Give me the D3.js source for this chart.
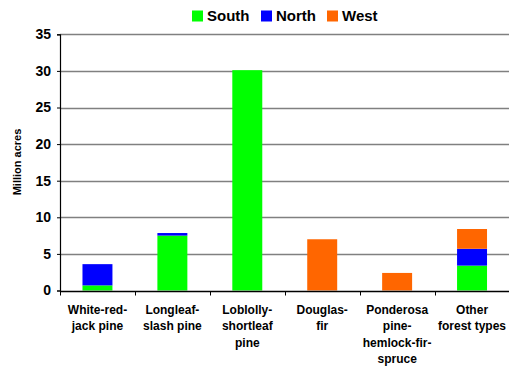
<!DOCTYPE html>
<html>
<head>
<meta charset="utf-8">
<script src="https://cdn.jsdelivr.net/npm/d3@7"></script>
<style>
  body { margin: 0; background: #fff; }
  text { font-family: "Liberation Sans", Arial, sans-serif; font-weight: bold; }
</style>
</head>
<body>
<div id="chart"></div>
<script>
const categories = [
  ["White-red-", "jack pine"],
  ["Longleaf-", "slash pine"],
  ["Loblolly-", "shortleaf", "pine"],
  ["Douglas-", "fir"],
  ["Ponderosa", "pine-", "hemlock-fir-", "spruce"],
  ["Other", "forest types"]
];
const series = ["South", "North", "West"];
const south = [0.7, 7.5, 30.1, 0, 0, 3.4];
const north = [2.9, 0.35, 0, 0, 0, 2.3];
const west = [0, 0, 0, 7.0, 2.4, 2.7];
const yTicks = [0, 5, 10, 15, 20, 25, 30, 35];
const colors = ["#00ff00", "#0000ff", "#ff6600"];

const W = 509, H = 368;
const margin = {top: 34, right: 0, bottom: 78, left: 60};

const svg = d3.select("#chart").append("svg")
  .attr("width", W).attr("height", H);

const rows = categories.map((c, i) => ({i, South: south[i], North: north[i], West: west[i]}));
const stacked = d3.stack().keys(series)(rows);

const x = d3.scaleBand().domain(d3.range(categories.length))
  .range([margin.left, W - margin.right + 0.5]).paddingInner(0.6).paddingOuter(0.3);
const xb = d3.scaleBand().domain(d3.range(categories.length))
  .range([margin.left, W - margin.right + 0.5]);
const y = d3.scaleLinear().domain([0, 35]).range([H - margin.bottom + 0.5, margin.top + 0.3]);

// gridlines
svg.append("g").selectAll("line").data(yTicks.slice(1)).join("line")
  .attr("x1", margin.left).attr("x2", W)
  .attr("y1", d => Math.round(y(d)) + 0.5).attr("y2", d => Math.round(y(d)) + 0.5)
  .attr("stroke", "#808080").attr("stroke-width", 1.5);

// bars
svg.append("g").selectAll("g").data(stacked).join("g")
  .attr("fill", (d, k) => colors[k])
  .selectAll("rect").data(d => d.filter(p => p[1] - p[0] > 0)).join("rect")
  .attr("x", d => x(d.data.i))
  .attr("width", x.bandwidth())
  .attr("y", d => y(d[1]))
  .attr("height", d => y(d[0]) - y(d[1]));

// y axis
const yAxis = svg.append("g").attr("transform", `translate(${margin.left},0)`)
  .call(d3.axisLeft(y).tickValues(yTicks).tickSize(3).tickPadding(6));
yAxis.select(".domain").attr("stroke", "#000").attr("stroke-width", 1.2);
yAxis.selectAll("text").attr("font-size", 14).attr("fill", "#000");

// x axis
const xAxisY = Math.round(y(0)) + 0.5;
svg.append("line").attr("x1", margin.left).attr("x2", W)
  .attr("y1", xAxisY).attr("y2", xAxisY).attr("stroke", "#000").attr("stroke-width", 1.5);
svg.append("g").selectAll("line").data(d3.range(categories.length)).join("line")
  .attr("x1", d => Math.round(xb(d)) + 0.5).attr("x2", d => Math.round(xb(d)) + 0.5)
  .attr("y1", xAxisY).attr("y2", xAxisY + 4).attr("stroke", "#000");

const labels = svg.append("g").selectAll("text").data(categories).join("text")
  .attr("text-anchor", "middle").attr("font-size", 12).attr("fill", "#000")
  .attr("transform", (d, i) => `translate(${xb(i) + xb.bandwidth() / 2},314)`);
labels.selectAll("tspan").data(d => d).join("tspan")
  .attr("x", 0).attr("y", (d, j) => j * 16.3).text(d => d);

// y title
svg.append("text").attr("transform", "translate(21,162) rotate(-90)")
  .attr("text-anchor", "middle").attr("font-size", 11).text("Million acres");

// legend
const legX = [192, 261, 327];
const leg = svg.append("g").selectAll("g").data(series).join("g")
  .attr("transform", (d, i) => `translate(${legX[i]},10.5)`);
leg.append("rect").attr("width", 11).attr("height", 11).attr("fill", (d, i) => colors[i]);
leg.append("text").attr("x", 15).attr("y", 10.5).attr("font-size", 15).text(d => d);
</script>
</body>
</html>
